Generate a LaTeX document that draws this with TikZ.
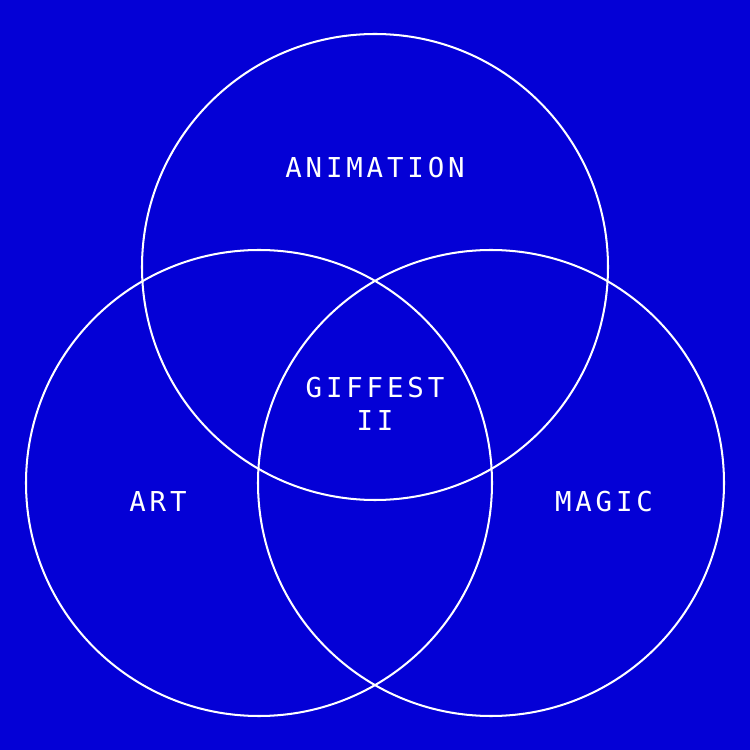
\documentclass[tikz,border=0pt]{standalone}
\usepackage{fontspec}
\newfontfamily\vennfont[LetterSpace=14]{DejaVu Sans Mono}
\definecolor{giffblue}{RGB}{4,0,214}

\begin{document}
\begin{tikzpicture}[
  ring/.style={draw=white,line width=1.15pt},
  word/.style={text=white,font=\vennfont\fontsize{15.6}{18.8}\selectfont,align=center,inner sep=0pt},
  x=1cm,y=1cm
]
  \fill[giffblue] (0,0) rectangle (15,15);
  \useasboundingbox (0,0) rectangle (15,15);

  \coordinate (top) at (7.5,9.66);
  \coordinate (left) at (5.18,5.34);
  \coordinate (right) at (9.82,5.34);
  \foreach \c in {top,left,right}
    \draw[ring] (\c) circle[radius=4.66];

  \node[word] (animation) at (7.5,11.64) {ANIMATION};
  \node[word] (giffest) at (7.5,6.92) {GIFFEST\\II};
  \node[word] (art) at (3.16,4.96) {ART};
  \node[word] (magic) at (12.08,4.96) {MAGIC};
\end{tikzpicture}
\end{document}
